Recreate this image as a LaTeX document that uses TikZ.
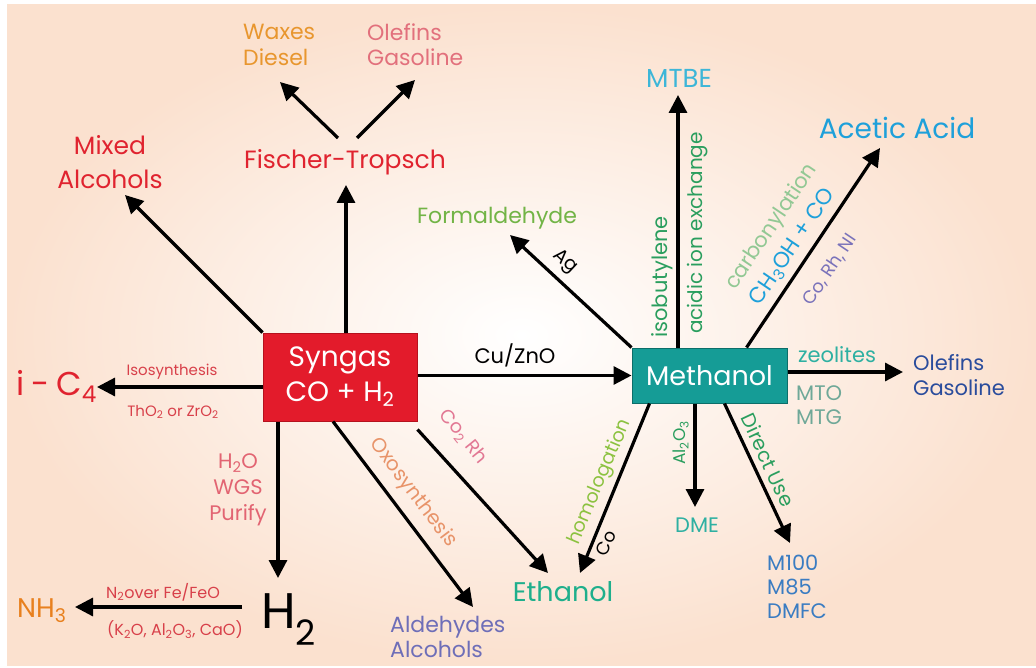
\documentclass[tikz,border=0pt]{standalone}
\usepackage{fontspec}
\setmainfont{Poppins}
\usetikzlibrary{arrows.meta,shadings}
\newcommand\fsz[1]{\fontsize{#1}{\dimexpr #1pt*115/100\relax}\selectfont}
\definecolor{bgpeach}{HTML}{FBE1CF}
\definecolor{synred}{HTML}{E31B2B}
\definecolor{synredd}{HTML}{B5121E}
\definecolor{methteal}{HTML}{159C96}
\definecolor{methteald}{HTML}{0C6E69}
\definecolor{cOrange}{HTML}{E8962E}
\definecolor{cPink}{HTML}{E2707C}
\definecolor{cRed}{HTML}{E0232F}
\definecolor{cRed2}{HTML}{D8404A}
\definecolor{cPinkRed}{HTML}{E26472}
\definecolor{cNH}{HTML}{E8801E}
\definecolor{cSalmon}{HTML}{E8946A}
\definecolor{cCoRh}{HTML}{E27894}
\definecolor{cPurple}{HTML}{6E6EB8}
\definecolor{cEthanol}{HTML}{1FAF8C}
\definecolor{cLime}{HTML}{8CC240}
\definecolor{cTeal}{HTML}{2EB0A2}
\definecolor{cGreen}{HTML}{2A9E5E}
\definecolor{cBlue}{HTML}{3A7CC2}
\definecolor{cGrayTeal}{HTML}{6FA898}
\definecolor{cNavy}{HTML}{2A4C9C}
\definecolor{cFormal}{HTML}{72B446}
\definecolor{cCyan}{HTML}{3DB6D8}
\definecolor{cLightGreen}{HTML}{92C894}
\definecolor{cCyan2}{HTML}{1EA0DA}
\definecolor{cViolet}{HTML}{7A72BA}
\tikzset{
  arr/.style={line width=3.2pt, -{Triangle[length=18pt,width=18pt]}, black},
  txt/.style={inner sep=0pt, align=center, text=#1},
  box/.style={draw=#1, line width=1pt, inner sep=0pt, align=center, text=white},
}
\begin{document}
\begin{tikzpicture}[x=1pt,y=-1pt]
\useasboundingbox (0,0) rectangle (1036,668);
\fill[white] (0,0) rectangle (1036,668);
\shade[inner color=white, outer color=bgpeach] (7,5) rectangle (1036,665);

% boxes
\node[box=synredd, fill=synred, minimum width=154pt, minimum height=88pt, font=\fsz{28}] (syngas) at (340,377) {Syngas\\[2pt]CO + H\textsubscript{2}};
\node[box=methteald, fill=methteal, minimum width=155pt, minimum height=55pt, font=\fsz{27}] (methanol) at (709.5,375.5) {Methanol};

% top products
\node[txt=cOrange, anchor=west, align=left, font=\fsz{22}] (waxes) at (243,45) {Waxes\\Diesel};
\node[txt=cPink, anchor=west, align=left, font=\fsz{22}] (olefT) at (367,45) {Olefins\\Gasoline};
\node[txt=cRed, font=\fsz{25}] (ft) at (345,162) {Fischer-Tropsch};
\node[txt=cRed, font=\fsz{25}] (mixed) at (110,162) {Mixed\\[5pt]Alcohols};
\node[txt=cFormal, font=\fsz{22}] (formal) at (497,218) {Formaldehyde};
\node[txt=cCyan, font=\fsz{26}] (mtbe) at (679,78) {MTBE};
\node[txt=cCyan2, font=\fsz{28}] (acetic) at (897,128) {Acetic Acid};

% left
\node[txt=cRed, anchor=base west, font=\fsz{33}] (ic4) at (16,395) {i\kern7pt-\kern7pt C\textsubscript{4}};
\node[txt=cRed2, font=\fsz{15}] (isosyn) at (172,372) {Isosynthesis};
\node[txt=cRed2, font=\fsz{15}] (tho2) at (173,412) {ThO\textsubscript{2} or ZrO\textsubscript{2}};
\node[txt=cPinkRed, font=\fsz{21}] (wgs) at (238,490) {H\textsubscript{2}O\\[2pt]WGS\\[2pt]Purify};
\node[txt=black, anchor=base west, font=\fsz{50}] (h2) at (261,628) {H\textsubscript{2}};
\node[txt=cNH, anchor=base west, font=\fsz{27}] (nh3) at (17,617) {NH\textsubscript{3}};
\node[txt=cRed2, font=\fsz{16}] (n2over) at (163,592) {N\textsubscript{2}over Fe/FeO};
\node[txt=cRed2, font=\fsz{16}] (k2o) at (175,630) {(K\textsubscript{2}O, Al\textsubscript{2}O\textsubscript{3}, CaO)};

% bottom middle
\node[txt=cSalmon, rotate=-53, font=\fsz{20}] (oxo) at (413,493) {Oxosynthesis};
\node[txt=cPurple, anchor=west, align=left, font=\fsz{22}] (ald) at (390,637) {Aldehydes\\Alcohols};
\node[txt=cCoRh, rotate=-51, font=\fsz{19}] (co2rh) at (463,437) {Co\textsubscript{2} Rh};
\node[txt=black, font=\fsz{21}] (cuzno) at (515,355) {Cu/ZnO};
\node[txt=cEthanol, font=\fsz{27}] (ethanol) at (563,592) {Ethanol};
\node[txt=cLime, rotate=67, font=\fsz{19}] (homol) at (600,482) {homologation};
\node[txt=black, rotate=67, font=\fsz{18}] (colbl) at (606,543) {Co};

% methanol surroundings
\node[txt=cGreen, rotate=90, font=\fsz{17}] (al2o3) at (681,443) {Al\textsubscript{2}O\textsubscript{3}};
\node[txt=cTeal, font=\fsz{21}] (dme) at (697,525) {DME};
\node[txt=cGreen, rotate=-65, font=\fsz{20}] (direct) at (768,460) {Direct Use};
\node[txt=cBlue, anchor=west, align=left, font=\fsz{21}] (m100) at (767,587) {M100\\M85\\DMFC};
\node[txt=cTeal, font=\fsz{21}] (zeol) at (837,355) {zeolites};
\node[txt=cGrayTeal, anchor=west, align=left, font=\fsz{21}] (mto) at (796,405) {MTO\\MTG};
\node[txt=cNavy, anchor=west, align=left, font=\fsz{21}] (olefR) at (913,375) {Olefins\\Gasoline};
\node[txt=black, rotate=-43, font=\fsz{19}] (ag) at (565,262) {Ag};
\node[txt=cGreen, rotate=90, font=\fsz{21}] (isob) at (662,277) {isobutylene};
\node[txt=cGreen, rotate=90, font=\fsz{20}] (acidic) at (698,233) {acidic ion exchange};
\node[txt=cLightGreen, rotate=56, font=\fsz{21}] (carb) at (772,227) {carbonylation};
\node[txt=cCyan2, rotate=56, font=\fsz{22}] (ch3oh) at (793,247) {CH\textsubscript{3}OH + CO};
\node[txt=cViolet, rotate=56, font=\fsz{18}] (corhni) at (830,270) {Co, Rh, NI};

% arrow end coordinates
\coordinate (tWax) at (280,82);
\coordinate (tOlT) at (415,80);
\coordinate (ftL) at (338,138);
\coordinate (ftR) at (357,138);
\coordinate (tFT) at (346,185);
\coordinate (tMix) at (125,195);
\coordinate (tIC4) at (97,387);
\coordinate (tH2) at (278,578);
\coordinate (h2L) at (242,607);
\coordinate (tNH3) at (75,607);
\coordinate (tAld) at (473,607);
\coordinate (tEthA) at (548,573);
\coordinate (tEthB) at (580,573);
\coordinate (tDME) at (695,507);
\coordinate (tM100) at (790,543);
\coordinate (tOlR) at (903,372);
\coordinate (tForm) at (510,235);
\coordinate (tMTBE) at (678,95);
\coordinate (tAcet) at (880,148);

% arrows
\draw[arr] (ftL) -- (tWax);
\draw[arr] (ftR) -- (tOlT);
\draw[arr] (syngas.north -| tFT) -- (tFT);
\draw[arr] (syngas.north west) -- (tMix);
\draw[arr] (syngas.west |- tIC4) -- (tIC4);
\draw[arr] (syngas.south -| tH2) -- (tH2);
\draw[arr] (h2L) -- (tNH3);
\draw[arr] ([xshift=-7pt]syngas.south) -- (tAld);
\draw[arr] ([yshift=-8pt]syngas.south east) -- (tEthA);
\draw[arr] (syngas.east |- methanol.west) -- (methanol.west);
\draw[arr] ([xshift=18pt]methanol.south west) -- (tEthB);
\draw[arr] (methanol.south -| tDME) -- (tDME);
\draw[arr] ([xshift=93pt]methanol.south west) -- (tM100);
\draw[arr] (methanol.east |- tOlR) -- (tOlR);
\draw[arr] (methanol.north west) -- (tForm);
\draw[arr] (methanol.north -| tMTBE) -- (tMTBE);
\draw[arr] ([xshift=115pt]methanol.north west) -- (tAcet);
\end{tikzpicture}
\end{document}
